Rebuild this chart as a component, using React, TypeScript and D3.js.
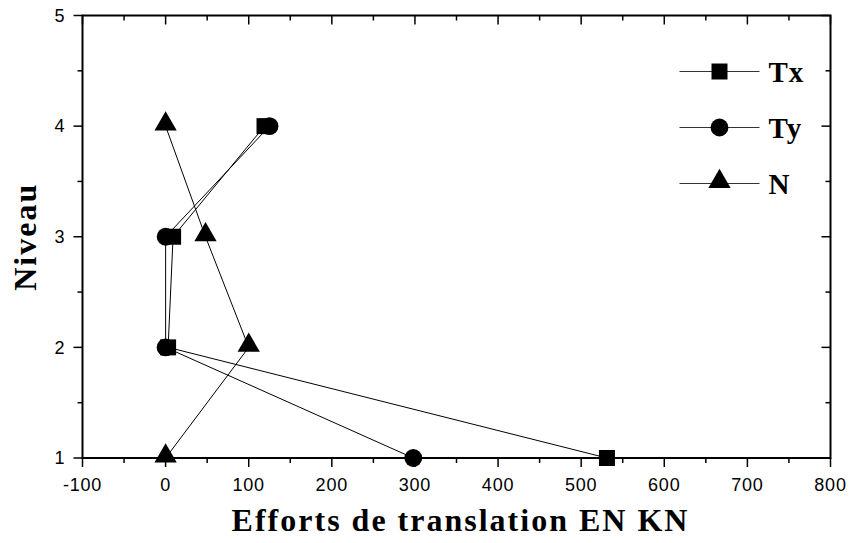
import React from 'react'
import { scaleLinear, line, range, symbol, symbolSquare, symbolCircle, symbolTriangle } from 'd3'

const levels = [1, 2, 3, 4]
const txValues = [531, 3, 9, 119]
const tyValues = [298, 0, 0, 125]
const nValues = [0, 100, 48, 0]

const xTicks = [-100, 0, 100, 200, 300, 400, 500, 600, 700, 800]
const yTicks = [1, 2, 3, 4, 5]

const seriesNames = ['Tx', 'Ty', 'N']

const App = () => {
  const width = 852
  const height = 543
  const margin = { top: 15.5, right: 21.5, bottom: 85, left: 82.5 }
  const innerWidth = width - margin.left - margin.right
  const innerHeight = height - margin.top - margin.bottom

  const xScale = scaleLinear().domain([-100, 800]).range([0, innerWidth])
  const yScale = scaleLinear().domain([1, 5]).range([innerHeight, 0])

  const xMinor = range(-50, 800, 100)
  const yMinor = range(1.5, 5, 1)

  const series = [
    { name: seriesNames[0], values: txValues, shape: symbol(symbolSquare, 256)() },
    { name: seriesNames[1], values: tyValues, shape: symbol(symbolCircle, 250)() },
    { name: seriesNames[2], values: nValues, shape: symbol(symbolTriangle, 215)() },
  ]

  const lineGenerator = line<[number, number]>()
    .x(d => xScale(d[0]))
    .y(d => yScale(d[1]))

  const tickFont = "'Liberation Sans', Arial, sans-serif"
  const titleFont = "'Liberation Serif', 'Times New Roman', serif"

  return (
    <>
      <style>{'body{margin:0}'}</style>
      <svg width={width} height={height} style={{ display: 'block', background: 'white' }}>
        <g transform={`translate(${margin.left},${margin.top})`}>
          {/* frame */}
          <rect x={0} y={0} width={innerWidth} height={innerHeight} fill='none' stroke='black' strokeWidth={2} />

          {/* bottom + top ticks */}
          {xTicks.map(t => (
            <g key={'x' + t} transform={`translate(${xScale(t)},0)`}>
              <line y1={innerHeight} y2={innerHeight + 9} stroke='black' strokeWidth={1.5} />
              <line y1={0} y2={9} stroke='black' strokeWidth={1.5} />
              <text
                y={innerHeight + 33}
                textAnchor='middle'
                fontFamily={tickFont}
                fontSize={18}
                letterSpacing={0.8}
              >{t}</text>
            </g>
          ))}
          {xMinor.map(t => (
            <g key={'xm' + t} transform={`translate(${xScale(t)},0)`}>
              <line y1={innerHeight} y2={innerHeight + 5} stroke='black' strokeWidth={1.5} />
              <line y1={0} y2={5} stroke='black' strokeWidth={1.5} />
            </g>
          ))}

          {/* left + right ticks */}
          {yTicks.map(t => (
            <g key={'y' + t} transform={`translate(0,${yScale(t)})`}>
              <line x1={-9} x2={0} stroke='black' strokeWidth={1.5} />
              <line x1={innerWidth - 9} x2={innerWidth} stroke='black' strokeWidth={1.5} />
              <text
                x={-18}
                dy='0.35em'
                textAnchor='end'
                fontFamily={tickFont}
                fontSize={18}
              >{t}</text>
            </g>
          ))}
          {yMinor.map(t => (
            <g key={'ym' + t} transform={`translate(0,${yScale(t)})`}>
              <line x1={-5} x2={0} stroke='black' strokeWidth={1.5} />
              <line x1={innerWidth - 5} x2={innerWidth} stroke='black' strokeWidth={1.5} />
            </g>
          ))}

          {/* series */}
          {series.map(s => {
            const pts: [number, number][] = s.values.map((v, i) => [v, levels[i]])
            return (
              <g key={s.name}>
                <path d={lineGenerator(pts) || ''} fill='none' stroke='black' strokeWidth={1} />
                {pts.map((p, i) => (
                  <path
                    key={i}
                    d={s.shape || ''}
                    transform={`translate(${xScale(p[0])},${yScale(p[1]) - (s.name === 'N' ? 2 : 0)})`}
                    fill='black'
                  />
                ))}
              </g>
            )
          })}

          {/* legend */}
          {series.map((s, i) => {
            const ly = 56 + i * 56
            return (
              <g key={'leg' + s.name} transform={`translate(597,${ly})`}>
                <line x1={0} x2={80} stroke='#333' strokeWidth={1} />
                <path d={s.shape || ''} transform={`translate(40,${s.name === 'N' ? -2 : 0})`} fill='black' />
                <text
                  x={89}
                  dy='0.35em'
                  fontFamily={titleFont}
                  fontWeight='bold'
                  fontSize={29}
                  letterSpacing={1}
                >{s.name}</text>
              </g>
            )
          })}
        </g>

        {/* axis titles */}
        <text
          x={margin.left + innerWidth / 2 + 4}
          y={531}
          textAnchor='middle'
          fontFamily={titleFont}
          fontWeight='bold'
          fontSize={32}
          letterSpacing={2}
        >Efforts de translation EN KN</text>
        <text
          transform={`translate(36,${margin.top + innerHeight / 2}) rotate(-90)`}
          textAnchor='middle'
          fontFamily={titleFont}
          fontWeight='bold'
          fontSize={32}
          letterSpacing={2}
        >Niveau</text>
      </svg>
    </>
  )
}

export default App
